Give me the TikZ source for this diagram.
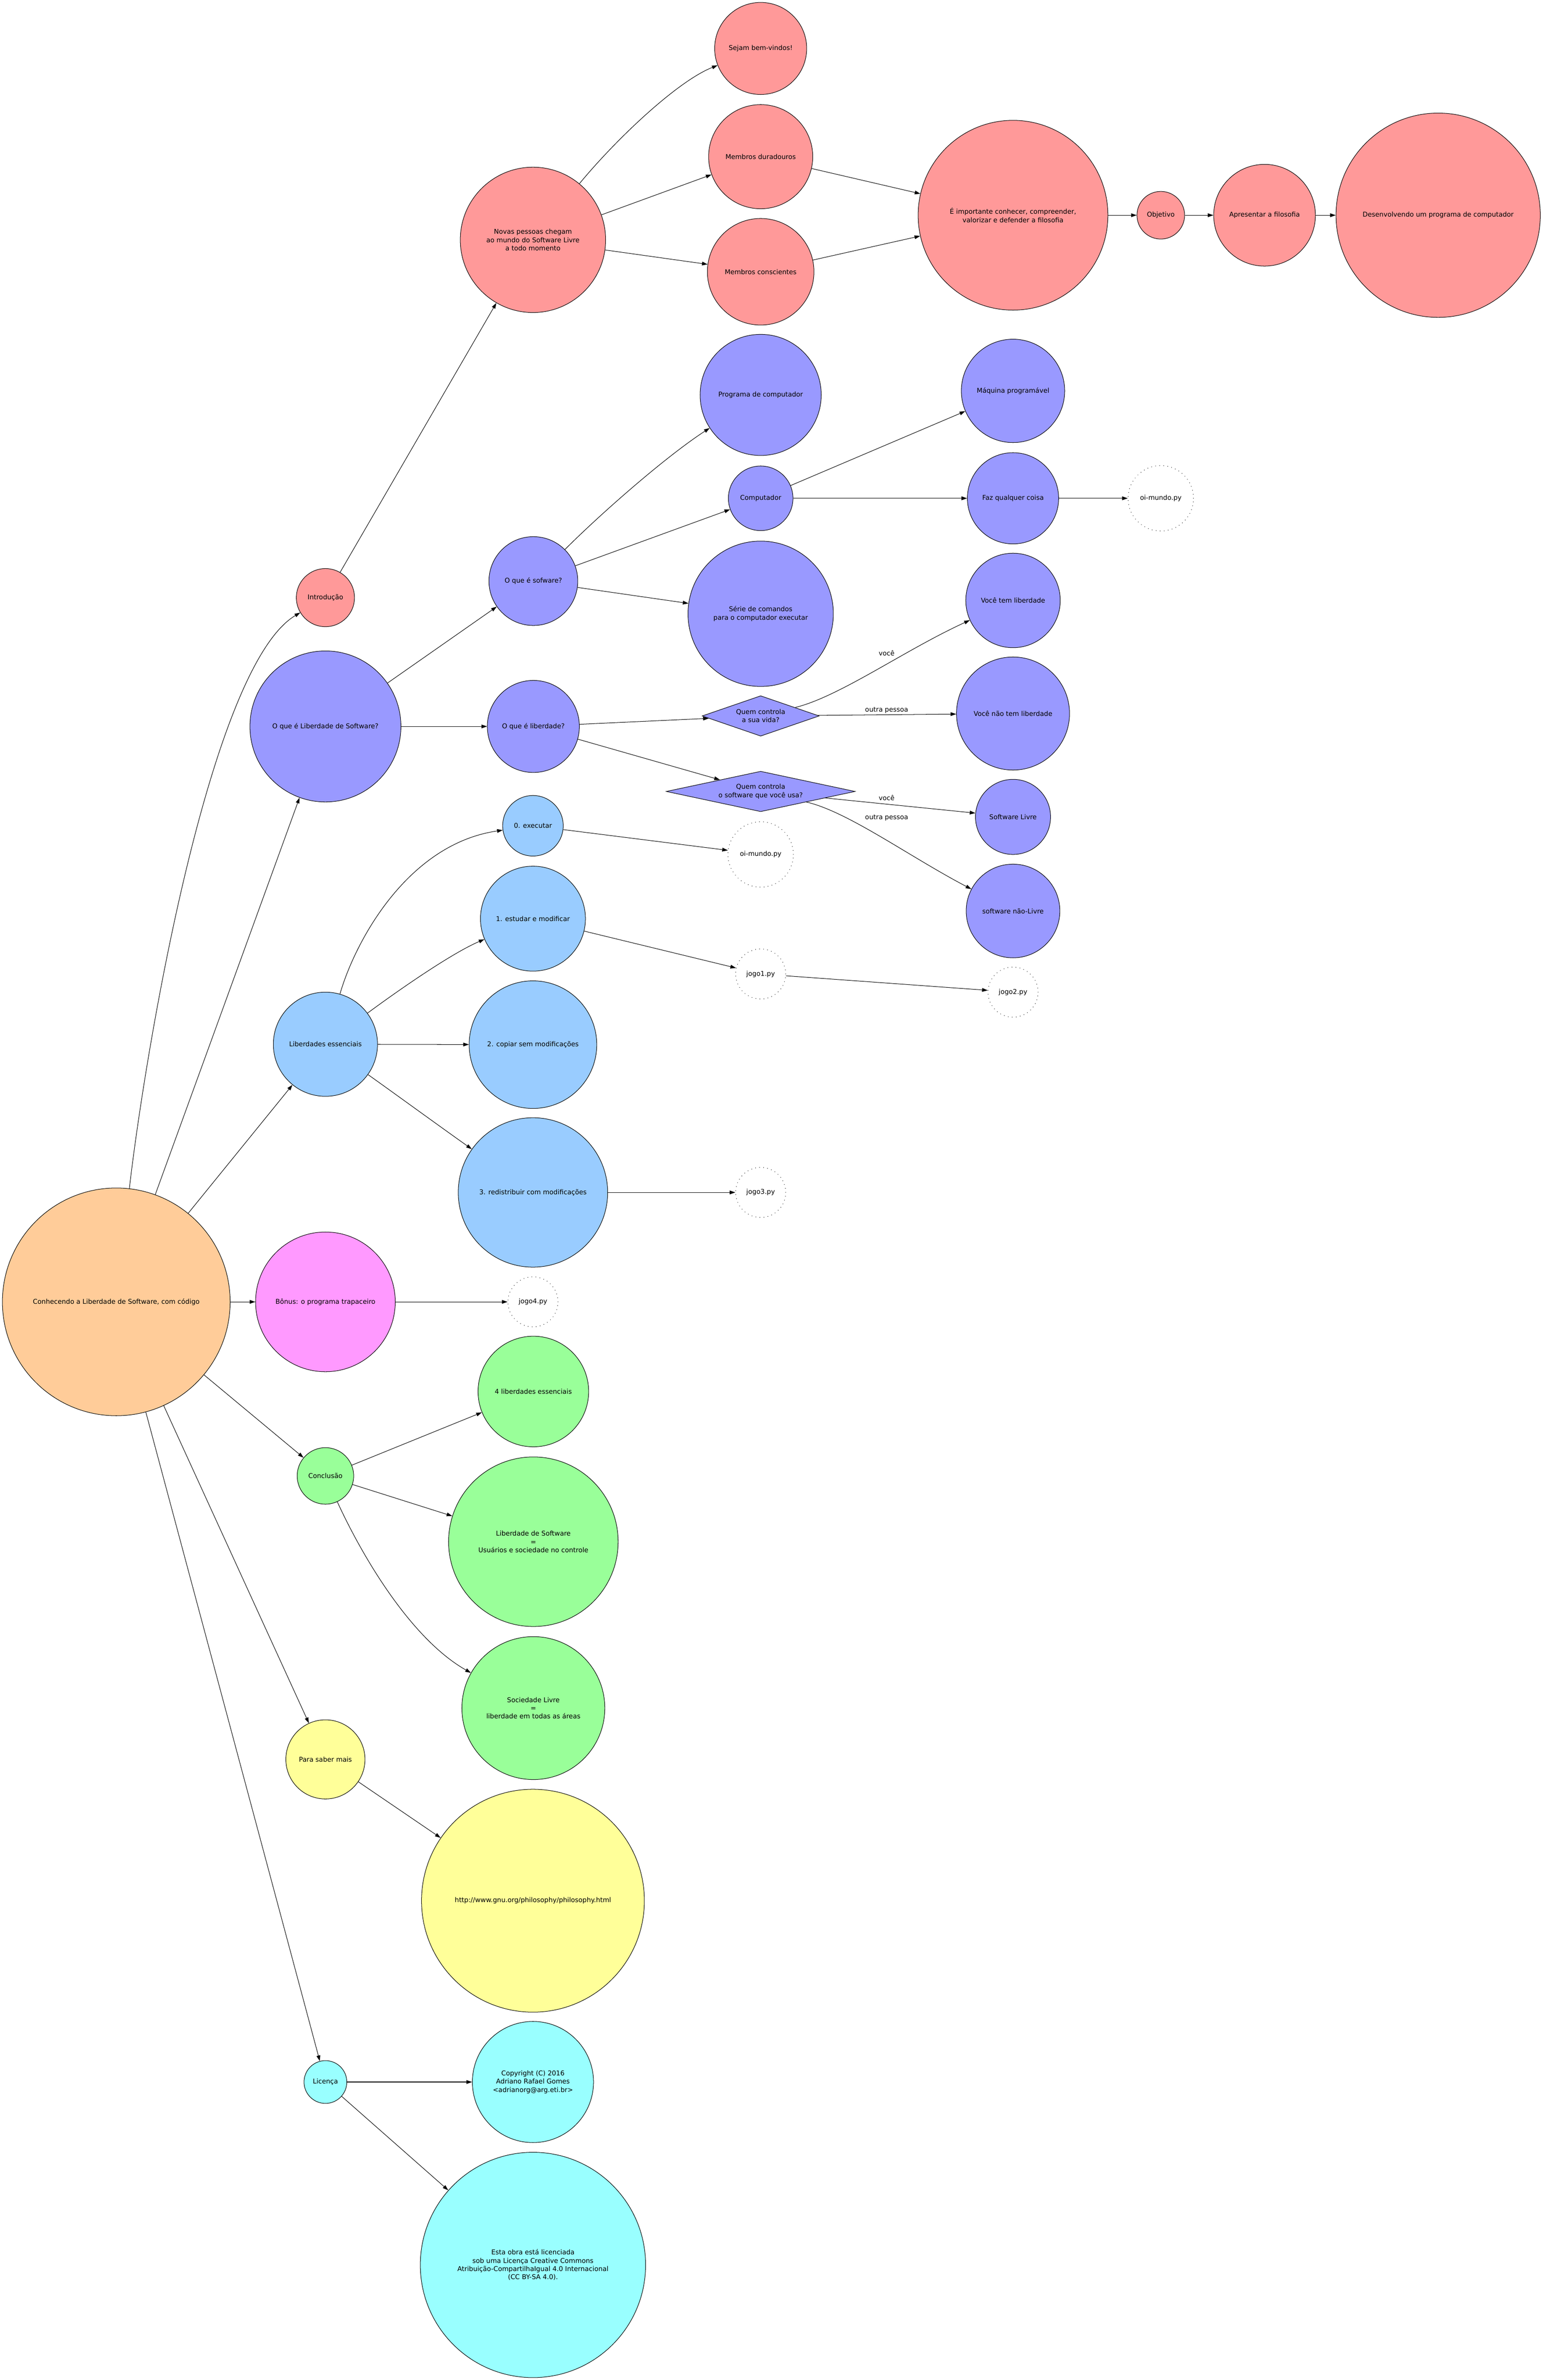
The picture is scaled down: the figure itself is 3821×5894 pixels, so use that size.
\documentclass[tikz,border=0pt]{standalone}
\usepackage{fontspec}
\setmainfont{DejaVu Sans}
\usetikzlibrary{shapes.geometric,arrows.meta}
\definecolor{cred}{HTML}{FF9999}
\definecolor{cblue}{HTML}{9999FF}
\definecolor{clblue}{HTML}{99CCFF}
\definecolor{cpink}{HTML}{FF99FF}
\definecolor{cgreen}{HTML}{99FF99}
\definecolor{cyellow}{HTML}{FFFF99}
\definecolor{ccyan}{HTML}{99FFFF}
\definecolor{corange}{HTML}{FFCC99}
\begin{document}
\begin{tikzpicture}[x=0.5pt,y=-0.5pt,
  txt/.style={font=\fontsize{8.2pt}{10.2pt}\selectfont},
  gnode/.style={circle,draw=black,line width=0.6pt,inner sep=0pt,align=center,txt},
  rad/.style={minimum size=#1pt},
  dotnode/.style={gnode,line cap=round,dash pattern=on 0.1pt off 4.9pt,line width=0.8pt},
  dnode/.style={diamond,draw=black,line width=0.6pt,inner sep=0pt,fill=cblue},
  lbl/.style={align=center,txt,inner sep=0pt},
  conn/.style={-{Triangle[length=7pt,width=4.6pt]},line width=0.6pt}
]
\useasboundingbox (0,0) rectangle (3821,5894);

% root
\node[gnode,rad=282,fill=corange] (root) at (288,3224) {Conhecendo a Liberdade de Software, com código};

% Introducao
\node[gnode,rad=72,fill=cred] (intro) at (806,1480) {Introdução};
\node[gnode,rad=180,fill=cred] (novas) at (1320,594) {Novas pessoas chegam\\ao mundo do Software Livre\\a todo momento};
\node[gnode,rad=114,fill=cred] (sejam) at (1884,120) {Sejam bem-vindos!};
\node[gnode,rad=129,fill=cred] (durad) at (1884,388) {Membros duradouros};
\node[gnode,rad=132,fill=cred] (consc) at (1884,673) {Membros conscientes};
\node[gnode,rad=235,fill=cred] (import) at (2509,533) {É importante conhecer, compreender,\\valorizar e defender a filosofia};
\node[gnode,rad=59,fill=cred] (objet) at (2875,533) {Objetivo};
\node[gnode,rad=126,fill=cred] (apres) at (3132,533) {Apresentar a filosofia};
\node[gnode,rad=253,fill=cred] (desenv) at (3562,533) {Desenvolvendo um programa de computador};

% O que e Liberdade de Software
\node[gnode,rad=187,fill=cblue] (olsw) at (806,1799) {O que é Liberdade de Software?};
\node[gnode,rad=110,fill=cblue] (osw) at (1321,1439) {O que é sofware?};
\node[gnode,rad=114,fill=cblue] (olib) at (1321,1799) {O que é liberdade?};
\node[gnode,rad=150,fill=cblue] (prog) at (1884,978) {Programa de computador};
\node[gnode,rad=80,fill=cblue] (comp) at (1884,1234) {Computador};
\node[gnode,rad=180,fill=cblue] (serie) at (1884,1520) {Série de comandos\\para o computador executar};
\node[gnode,rad=128,fill=cblue] (maq) at (2509,968) {Máquina programável};
\node[gnode,rad=113,fill=cblue] (faz) at (2509,1234) {Faz qualquer coisa};
\node[dotnode,rad=81] (oi1) at (2875,1234) {oi-mundo.py};
\node[dnode,minimum width=145pt,minimum height=50pt,label={[lbl]center:{Quem controla\\a sua vida?}}] (dvida) at (1884,1773) {};
\node[dnode,minimum width=234pt,minimum height=50pt,label={[lbl]center:{Quem controla\\o software que você usa?}}] (dsw) at (1884,1960) {};
\node[gnode,rad=117,fill=cblue] (vtl) at (2509,1487) {Você tem liberdade};
\node[gnode,rad=140,fill=cblue] (vntl) at (2509,1767) {Você não tem liberdade};
\node[gnode,rad=93,fill=cblue] (swl) at (2509,2023) {Software Livre};
\node[gnode,rad=116,fill=cblue] (swnl) at (2509,2256) {software não-Livre};

% Liberdades essenciais
\node[gnode,rad=129,fill=clblue] (libess) at (806,2586) {Liberdades essenciais};
\node[gnode,rad=75,fill=clblue] (f0) at (1320,2045) {0. executar};
\node[gnode,rad=130,fill=clblue] (f1) at (1320,2275) {1. estudar e modificar};
\node[gnode,rad=158,fill=clblue] (f2) at (1320,2587) {2. copiar sem modificações};
\node[gnode,rad=185,fill=clblue] (f3) at (1320,2953) {3. redistribuir com modificações};
\node[dotnode,rad=81] (oi2) at (1884,2116) {oi-mundo.py};
\node[dotnode,rad=62] (jogo1) at (1884,2412) {jogo1.py};
\node[dotnode,rad=62] (jogo2) at (2509,2457) {jogo2.py};
\node[dotnode,rad=62] (jogo3) at (1884,2953) {jogo3.py};

% Bonus
\node[gnode,rad=173,fill=cpink] (bonus) at (806,3224) {Bônus: o programa trapaceiro};
\node[dotnode,rad=62] (jogo4) at (1320,3224) {jogo4.py};

% Conclusao
\node[gnode,rad=70,fill=cgreen] (concl) at (806,3655) {Conclusão};
\node[gnode,rad=137,fill=cgreen] (c4) at (1321,3446) {4 liberdades essenciais};
\node[gnode,rad=210,fill=cgreen] (clib) at (1321,3818) {Liberdade de Software\\=\\Usuários e sociedade no controle};
\node[gnode,rad=177,fill=cgreen] (csoc) at (1321,4230) {Sociedade Livre\\=\\liberdade em todas as áreas};

% Para saber mais
\node[gnode,rad=98,fill=cyellow] (saber) at (806,4357) {Para saber mais};
\node[gnode,rad=276,fill=cyellow] (http) at (1320,4707) {http://www.gnu.org/philosophy/philosophy.html};

% Licenca
\node[gnode,rad=53,fill=ccyan] (lic) at (806,5156) {Licença};
\node[gnode,rad=150,fill=ccyan] (copy) at (1320,5156) {Copyright (C) 2016\\Adriano Rafael Gomes\\<adrianorg@arg.eti.br>};
\node[gnode,rad=279,fill=ccyan] (obra) at (1320,5609) {Esta obra está licenciada\\sob uma Licença Creative Commons\\Atribuição-CompartilhaIgual 4.0 Internacional\\(CC BY-SA 4.0).};

% edge labels
\node[lbl] (lv1) at (2196,1617) {você};
\node[lbl] (lo1) at (2196,1759) {outra pessoa};
\node[lbl] (lv2) at (2196,1976) {você};
\node[lbl] (lo2) at (2196,2025) {outra pessoa};

% connectors from root
\draw[conn] (root) .. controls (360,2600) and (520,1650) .. (intro);
\draw[conn] (root) -- (olsw);
\draw[conn] (root) -- (libess);
\draw[conn] (root) -- (bonus);
\draw[conn] (root) -- (concl);
\draw[conn] (root) -- (saber);
\draw[conn] (root) -- (lic);

% Introducao branch
\draw[conn] (intro) -- (novas);
\draw[conn] (novas) .. controls (1530,340) and (1680,200) .. (sejam);
\draw[conn] (novas) -- (durad);
\draw[conn] (novas) -- (consc);
\draw[conn] (durad) -- (import);
\draw[conn] (consc) -- (import);
\draw[conn] (import) -- (objet);
\draw[conn] (objet) -- (apres);
\draw[conn] (apres) -- (desenv);

% O que e Liberdade de Software branch
\draw[conn] (olsw) -- (osw);
\draw[conn] (olsw) -- (olib);
\draw[conn] (osw) .. controls (1490,1270) and (1650,1130) .. (prog);
\draw[conn] (osw) -- (comp);
\draw[conn] (osw) -- (serie);
\draw[conn] (comp) -- (maq);
\draw[conn] (comp) -- (faz);
\draw[conn] (faz) -- (oi1);
\draw[conn] (olib) -- (dvida);
\draw[conn] (olib) -- (dsw);
\draw[conn] (dvida) .. controls (2080,1725) and (2240,1610) .. (vtl);
\draw[conn] (dvida) -- (vntl);
\draw[conn] (dsw) -- (swl);
\draw[conn] (dsw) .. controls (2100,2010) and (2250,2120) .. (swnl);

% Liberdades essenciais branch
\draw[conn] (libess) .. controls (880,2330) and (1010,2090) .. (f0);
\draw[conn] (libess) .. controls (990,2450) and (1120,2360) .. (f1);
\draw[conn] (libess) -- (f2);
\draw[conn] (libess) .. controls (980,2710) and (1090,2790) .. (f3);
\draw[conn] (f0) -- (oi2);
\draw[conn] (f1) -- (jogo1);
\draw[conn] (jogo1) -- (jogo2);
\draw[conn] (f3) -- (jogo3);

% Bonus
\draw[conn] (bonus) -- (jogo4);

% Conclusao
\draw[conn] (concl) -- (c4);
\draw[conn] (concl) -- (clib);
\draw[conn] (concl) .. controls (900,3860) and (1020,4060) .. (csoc);

% Para saber mais
\draw[conn] (saber) -- (http);

% Licenca
\draw[conn] (lic) -- (copy);
\draw[conn] (lic) -- (obra);
\end{tikzpicture}
\end{document}
